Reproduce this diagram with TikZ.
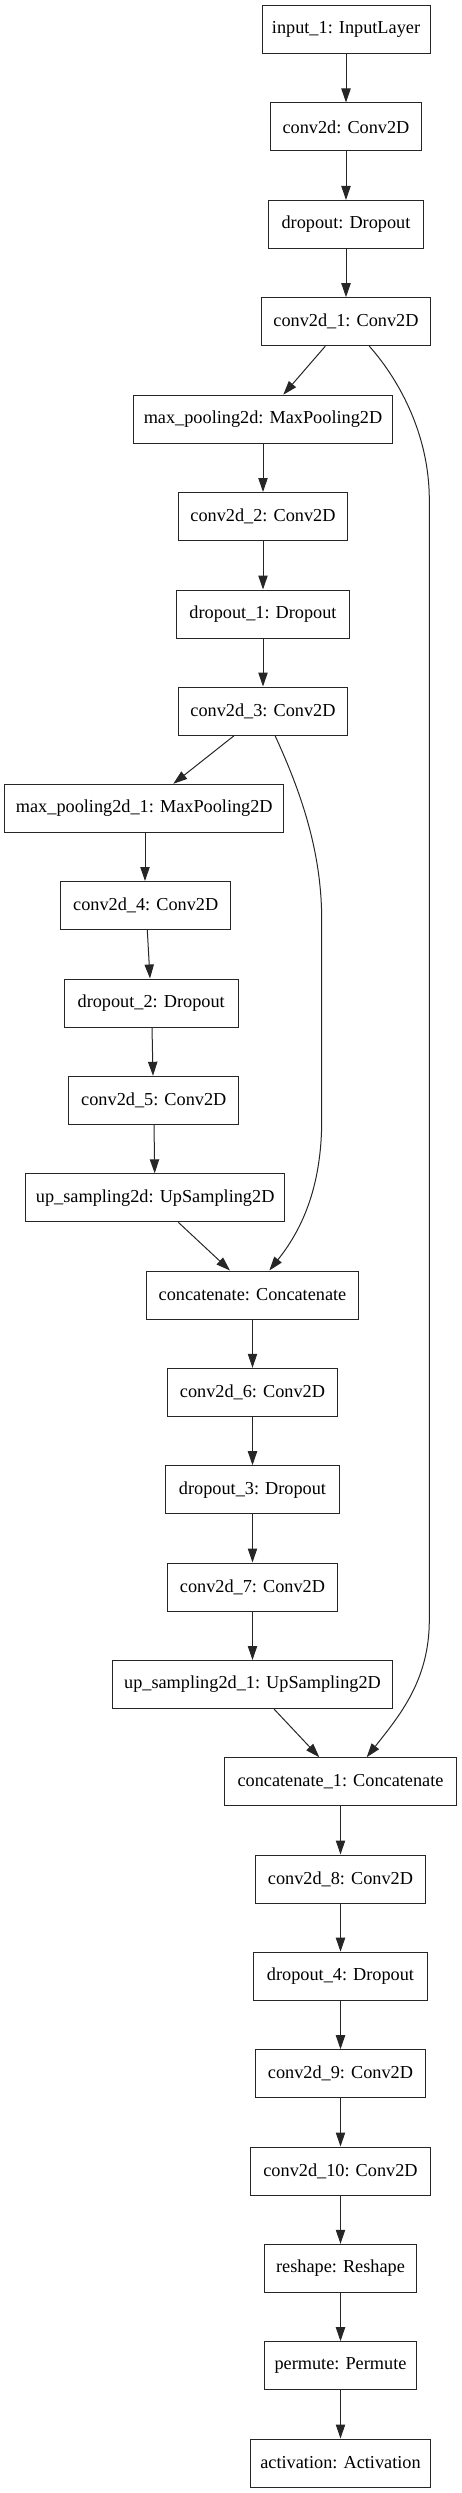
\documentclass[tikz,border=0pt]{standalone}
\usepackage{fontspec}
\setmainfont{Liberation Serif}
\usetikzlibrary{arrows.meta}
\begin{document}
\begin{tikzpicture}[x=0.75pt,y=-0.75pt,
  layer/.style={draw=black!85, line width=0.75pt, rectangle, inner sep=0pt,
    minimum height=36pt, font=\fontsize{13.7}{16}\selectfont},
  edge/.style={draw=black!85, line width=0.75pt, -{Triangle[length=10.5pt,width=7pt]}}]
\useasboundingbox (0,0) rectangle (461,2493);
\node[layer, minimum width=126pt] (in) at (346,29.7) {input\_1: InputLayer};
\node[layer, minimum width=113.3pt] (c0) at (346,127) {conv2d: Conv2D};
\node[layer, minimum width=116.3pt] (d0) at (346,224.5) {dropout: Dropout};
\node[layer, minimum width=127.3pt] (c1) at (346,321.7) {conv2d\_1: Conv2D};
\node[layer, minimum width=194.5pt] (mp0) at (263,419.2) {max\_pooling2d: MaxPooling2D};
\node[layer, minimum width=127.3pt] (c2) at (263,516.5) {conv2d\_2: Conv2D};
\node[layer, minimum width=130.3pt] (d1) at (263,614) {dropout\_1: Dropout};
\node[layer, minimum width=127.3pt] (c3) at (263,711) {conv2d\_3: Conv2D};
\node[layer, minimum width=209.5pt] (mp1) at (144.3,808.3) {max\_pooling2d\_1: MaxPooling2D};
\node[layer, minimum width=127.5pt] (c4) at (145.7,905.5) {conv2d\_4: Conv2D};
\node[layer, minimum width=130.3pt] (d2) at (151.2,1003) {dropout\_2: Dropout};
\node[layer, minimum width=127.3pt] (c5) at (153.8,1100.3) {conv2d\_5: Conv2D};
\node[layer, minimum width=194.3pt] (up0) at (155.2,1197.8) {up\_sampling2d: UpSampling2D};
\node[layer, minimum width=158.3pt] (cat0) at (252.5,1295) {concatenate: Concatenate};
\node[layer, minimum width=127.3pt] (c6) at (252.5,1392.3) {conv2d\_6: Conv2D};
\node[layer, minimum width=130.3pt] (d3) at (252.5,1489.7) {dropout\_3: Dropout};
\node[layer, minimum width=127.3pt] (c7) at (252.5,1587) {conv2d\_7: Conv2D};
\node[layer, minimum width=209.3pt] (up1) at (252.5,1684.5) {up\_sampling2d\_1: UpSampling2D};
\node[layer, minimum width=173.3pt] (cat1) at (340.5,1781.7) {concatenate\_1: Concatenate};
\node[layer, minimum width=127.5pt] (c8) at (340.5,1879) {conv2d\_8: Conv2D};
\node[layer, minimum width=130.3pt] (d4) at (340.5,1976.2) {dropout\_4: Dropout};
\node[layer, minimum width=127.5pt] (c9) at (340.5,2073.7) {conv2d\_9: Conv2D};
\node[layer, minimum width=134.3pt] (c10) at (340.5,2171) {conv2d\_10: Conv2D};
\node[layer, minimum width=114.3pt] (rs) at (340.5,2268.3) {reshape: Reshape};
\node[layer, minimum width=114.3pt] (pm) at (340.5,2365.7) {permute: Permute};
\node[layer, minimum width=134.3pt] (act) at (340.5,2463) {activation: Activation};

\draw[edge] (in) -- (c0);
\draw[edge] (c0) -- (d0);
\draw[edge] (d0) -- (c1);
\draw[edge] (c1.south) ++(-20.7,0) coordinate (c1a) (c1a) -- (mp0.north -| 283.3,0);
\draw[edge] (mp0) -- (c2);
\draw[edge] (c2) -- (d1);
\draw[edge] (d1) -- (c3);
\draw[edge] (c3.south -| 234.3,0) -- (mp1.north -| 173.3,0);
\draw[edge] (mp1.south -| 145,0) -- (c4.north -| 145,0);
\draw[edge] (c4.south -| 147.3,0) -- (d2.north -| 150,0);
\draw[edge] (d2.south -| 152,0) -- (c5.north -| 153,0);
\draw[edge] (c5.south -| 154,0) -- (up0.north -| 154.7,0);
\draw[edge] (up0.south -| 178.3,0) -- (cat0.north -| 230,0);
\draw[edge] (c3.south -| 275,0) .. controls (300,790) and (321.7,850) .. (321.7,920)
  -- (321.7,1120) .. controls (321.7,1190) and (300,1232) .. (cat0.north -| 269.3,0);
\draw[edge] (cat0) -- (c6);
\draw[edge] (c6) -- (d3);
\draw[edge] (d3) -- (c7);
\draw[edge] (c7) -- (up1);
\draw[edge] (up1.south -| 274,0) -- (cat1.north -| 319.3,0);
\draw[edge] (c1.south -| 369.3,0) .. controls (395,375) and (429.3,430) .. (429.3,500)
  -- (429.3,1620) .. controls (429.3,1680) and (400,1715) .. (cat1.north -| 366.7,0);
\draw[edge] (cat1) -- (c8);
\draw[edge] (c8) -- (d4);
\draw[edge] (d4) -- (c9);
\draw[edge] (c9) -- (c10);
\draw[edge] (c10) -- (rs);
\draw[edge] (rs) -- (pm);
\draw[edge] (pm) -- (act);
\end{tikzpicture}
\end{document}
